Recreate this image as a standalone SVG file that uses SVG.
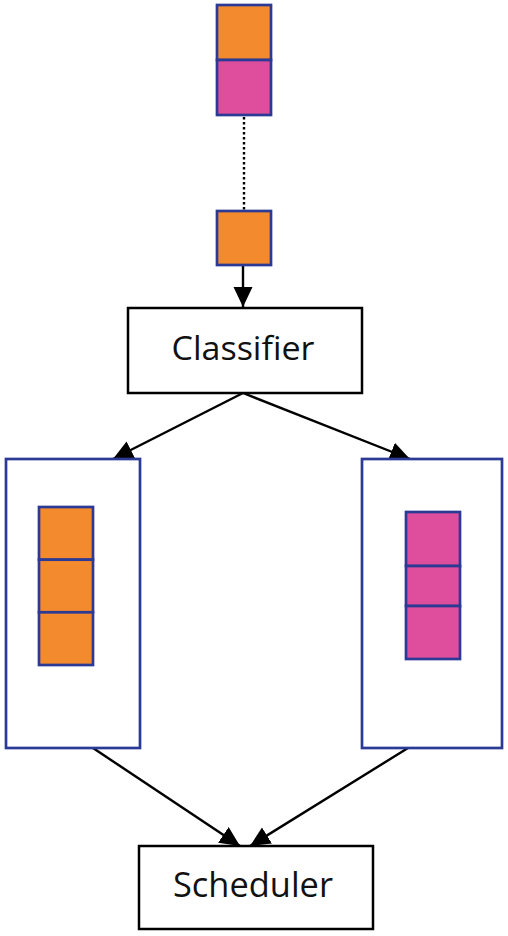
<svg xmlns="http://www.w3.org/2000/svg" width="508" height="936" viewBox="0 0 508 936">
<style>
.box{fill:#fff;stroke:#000;stroke-width:2.5}
.queue{fill:#fff;stroke:#2B3A94;stroke-width:2.7}
.or{fill:#F38B2E;stroke:#2B3A94;stroke-width:2.7}
.pk{fill:#DE4E9C;stroke:#2B3A94;stroke-width:2.7}
.lbl{font-family:"Open Sans","Noto Sans","Liberation Sans",sans-serif;fill:#111;text-anchor:middle}
.con{stroke:#000;stroke-width:2.4;fill:none}
</style>
<defs>
<marker id="ah" markerUnits="userSpaceOnUse" markerWidth="22" markerHeight="20" refX="20" refY="9.5" orient="auto">
<path d="M0,0 L20,9.5 L0,19 Z" fill="#000"/>
</marker>
</defs>
<rect width="508" height="936" fill="#fff"/>
<g id="connectors">
<line class="con" x1="244" y1="117" x2="244" y2="211" stroke-width="2.8" stroke-dasharray="2.5,2.5"/>
<line class="con" x1="243" y1="266" x2="243" y2="307" marker-end="url(#ah)"/>
<line class="con" x1="243" y1="393" x2="113" y2="459" marker-end="url(#ah)"/>
<line class="con" x1="243" y1="393" x2="410" y2="459" marker-end="url(#ah)"/>
<line class="con" x1="93" y1="748" x2="240" y2="846" marker-end="url(#ah)"/>
<line class="con" x1="408" y1="748" x2="250" y2="846" marker-end="url(#ah)"/>
</g>
<g id="incoming-stack">
<rect class="or" x="217" y="5" width="54" height="55"/>
<rect class="pk" x="217" y="60" width="54" height="55"/>
</g>
<g id="packet">
<rect class="or" x="217" y="211" width="54" height="54"/>
</g>
<g id="classifier">
<rect class="box" x="128" y="308" width="234" height="85"/>
<text class="lbl" x="243" y="360" font-size="32" textLength="143" lengthAdjust="spacingAndGlyphs">Classifier</text>
</g>
<g id="queue-left">
<rect class="queue" x="6" y="459" width="134" height="289"/>
<rect class="or" x="39" y="507" width="54" height="52.7"/>
<rect class="or" x="39" y="559.7" width="54" height="52.6"/>
<rect class="or" x="39" y="612.3" width="54" height="52.7"/>
</g>
<g id="queue-right">
<rect class="queue" x="362" y="459" width="140" height="289"/>
<rect class="pk" x="406" y="512" width="54" height="54"/>
<rect class="pk" x="406" y="566" width="54" height="40"/>
<rect class="pk" x="406" y="606" width="54" height="53"/>
</g>
<g id="scheduler">
<rect class="box" x="139" y="846" width="234" height="83"/>
<text class="lbl" x="253" y="897" font-size="34" textLength="160" lengthAdjust="spacingAndGlyphs">Scheduler</text>
</g>
</svg>
